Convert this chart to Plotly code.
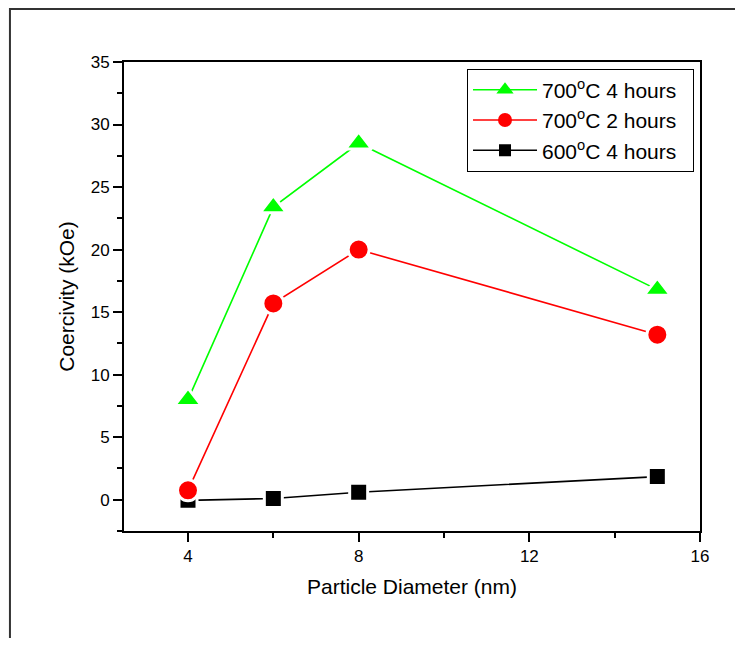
import plotly.graph_objects as go

diameter = [4, 6, 8, 15]
coer_700_4h = [8.0, 23.4, 28.5, 16.8]
coer_700_2h = [0.75, 15.7, 20.0, 13.2]
coer_600_4h = [-0.05, 0.1, 0.6, 1.85]

names = ["700<sup>o</sup>C 4 hours", "700<sup>o</sup>C 2 hours", "600<sup>o</sup>C 4 hours"]
colors = ["#00ff00", "#ff0000", "#000000"]
symbols = ["triangle-up", "circle", "square"]
sizes = [23, 21, 18]
leg_sizes = [15, 14, 12]
series = [coer_700_4h, coer_700_2h, coer_600_4h]

FONT = "Arial, Liberation Sans, sans-serif"

fig = go.Figure()
# data traces: draw black first, then red, then green on top
for i in [2, 1, 0]:
    fig.add_trace(go.Scatter(
        x=diameter, y=series[i], mode="lines+markers", showlegend=False,
        line=dict(color=colors[i], width=1.6),
        marker=dict(symbol=symbols[i], size=sizes[i], color=colors[i],
                    line=dict(color="white", width=3)),
        cliponaxis=False,
    ))
# legend-only traces
for i in range(3):
    fig.add_trace(go.Scatter(
        x=[None], y=[None], mode="lines+markers", name=names[i] + "\u00a0\u00a0",
        line=dict(color=colors[i], width=1.6),
        marker=dict(symbol=symbols[i], size=leg_sizes[i], color=colors[i]),
    ))

tick_font = dict(family=FONT, size=17, color="black")
title_font = dict(family=FONT, size=21, color="black")

fig.update_xaxes(
    range=[2.5, 16], tick0=0, dtick=4,
    showline=True, linecolor="black", linewidth=2, mirror=True,
    ticks="outside", ticklen=9, tickwidth=1.5, tickcolor="black",
    showgrid=False, zeroline=False,
    tickfont=tick_font,
    minor=dict(dtick=2, ticklen=5, tickwidth=1.5, tickcolor="black", ticks="outside", showgrid=False),
    title=dict(text="Particle Diameter (nm)", font=title_font, standoff=14),
)
fig.update_yaxes(
    range=[-2.5, 35], tick0=0, dtick=5,
    showline=True, linecolor="black", linewidth=2, mirror=True,
    ticks="outside", ticklen=9, tickwidth=1.5, tickcolor="black",
    showgrid=False, zeroline=False,
    tickfont=tick_font,
    minor=dict(dtick=2.5, ticklen=5, tickwidth=1.5, tickcolor="black", ticks="outside", showgrid=False),
    title=dict(text="Coercivity (kOe)", font=title_font, standoff=10),
)

fig.update_layout(
    width=727, height=630,
    margin=dict(l=116, r=35, t=54, b=107),
    paper_bgcolor="white", plot_bgcolor="white",
    font=dict(family=FONT, size=17, color="black"),
    legend=dict(
        x=0.9896, y=0.986, xanchor="right", yanchor="top",
        bgcolor="white", bordercolor="black", borderwidth=1,
        font=dict(family=FONT, size=21, color="black"),
        itemwidth=64, tracegroupgap=0,
    ),
    shapes=[dict(type="path", xref="paper", yref="paper",
                 path="M -0.198,-0.4 L -0.198,1.113 L 1.3,1.113",
                 line=dict(color="#333333", width=2), layer="below")],
)

fig.write_html("out.html")
